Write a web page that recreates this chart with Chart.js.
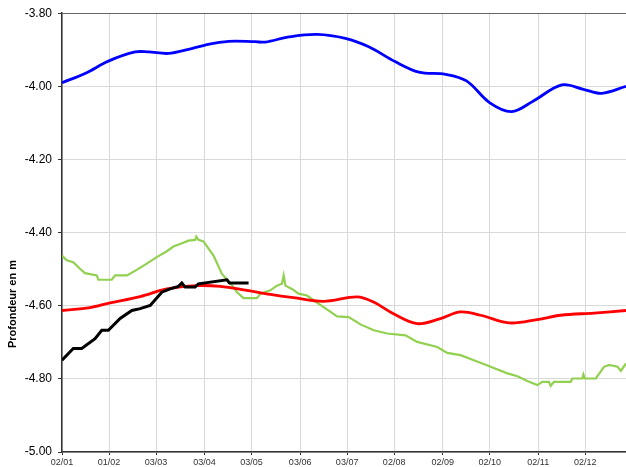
<!DOCTYPE html>
<html lang="fr">
<head>
<meta charset="UTF-8">
<title>Profondeur</title>
<script src="https://cdn.jsdelivr.net/npm/chart.js"></script>
<style>
    body { margin: 0; background: #fff; }
    #box { width: 626px; height: 467px; position: relative; }
</style>
</head>
<body>
<div id="box"><canvas id="grafico"></canvas></div>
<script>
    // jours comptes depuis le 02/01
    const tickDays = [0, 30, 60, 91, 121, 152, 182, 212, 243, 273, 304, 334];
    const tickLabels = ["02/01", "01/02", "03/03", "03/04", "03/05", "03/06", "03/07", "02/08", "02/09", "02/10", "02/11", "02/12"];

    const blueDays = [0, 14.7, 29.6, 46.7, 55.2, 68, 80.7, 91.4, 106.3, 123.4, 129.8, 144.7, 162.8, 180.9, 195.8, 212.9, 227.8, 244.8, 258.2, 273.1, 287, 300.9, 319, 332.8, 344.5, 360];
    const blueDepth = [-3.990, -3.965, -3.931, -3.906, -3.906, -3.910, -3.899, -3.887, -3.877, -3.878, -3.879, -3.865, -3.858, -3.869, -3.892, -3.933, -3.961, -3.967, -3.985, -4.045, -4.069, -4.040, -3.996, -4.008, -4.019, -4.000];

    const redDays = [0, 17.9, 30, 49.9, 66.9, 86.1, 101, 118, 133, 147.7, 166.8, 188.4, 198.8, 211.6, 226.7, 241.6, 254.4, 267.2, 285.3, 303.4, 318.3, 339.6, 360];
    const redDepth = [-4.613, -4.605, -4.593, -4.575, -4.554, -4.545, -4.547, -4.558, -4.569, -4.578, -4.588, -4.576, -4.590, -4.622, -4.649, -4.635, -4.617, -4.626, -4.647, -4.638, -4.626, -4.620, -4.613];

    const greenDays = [0, 3, 7.2, 11.5, 14.7, 22.2, 23.2, 31.8, 33.9, 41.4, 47.7, 54.1, 60.5, 66.9, 71.1, 75.4, 80.7, 85, 85.7, 87.1, 90.3, 96.7, 102.1, 107.4, 111.7, 115.9, 124.5, 126.6, 133, 137.2, 140.4, 141.5, 142.6, 146.8, 151, 156.4, 160.6, 167, 175.6, 183, 190.5, 199, 207.6, 219.3, 226.7, 239.5, 245.9, 254.4, 262.9, 273.6, 284.3, 290.7, 297, 303.4, 306.6, 310.8, 311.9, 314, 324.7, 325.8, 332.2, 332.8, 333.7, 340.7, 346, 349.2, 354.6, 356.7, 360];
    const greenDepth = [-4.463, -4.476, -4.481, -4.499, -4.511, -4.517, -4.529, -4.529, -4.517, -4.517, -4.502, -4.485, -4.467, -4.451, -4.438, -4.431, -4.422, -4.420, -4.411, -4.420, -4.424, -4.463, -4.513, -4.538, -4.563, -4.579, -4.579, -4.567, -4.558, -4.545, -4.540, -4.517, -4.545, -4.554, -4.567, -4.572, -4.585, -4.604, -4.629, -4.631, -4.651, -4.667, -4.676, -4.681, -4.699, -4.713, -4.729, -4.735, -4.749, -4.767, -4.785, -4.793, -4.806, -4.817, -4.808, -4.808, -4.819, -4.808, -4.808, -4.799, -4.799, -4.788, -4.799, -4.799, -4.767, -4.762, -4.767, -4.778, -4.758];

    const blackDays = [0, 7.2, 12.6, 21.1, 25.4, 29.6, 37.1, 44.6, 49.9, 56.3, 63.7, 69, 74.3, 76.5, 78.6, 85, 87.1, 105.3, 106.9, 119.1];
    const blackDepth = [-4.749, -4.717, -4.717, -4.690, -4.667, -4.667, -4.635, -4.613, -4.608, -4.599, -4.563, -4.554, -4.547, -4.538, -4.549, -4.549, -4.540, -4.529, -4.538, -4.538];

    function pts(days, vals) {
        return days.map((d, i) => ({x: d, y: vals[i]}));
    }

    // titre de l'axe Y, place un peu plus bas que le centre comme dans l'original
    const titreY = {
        id: "titreY",
        afterDraw(chart) {
            let c = chart.ctx;
            c.save();
            c.translate(13, 304);
            c.rotate(-Math.PI / 2);
            c.font = "bold 11px 'Liberation Sans', Arial, sans-serif";
            c.fillStyle = "#000";
            c.textAlign = "center";
            c.textBaseline = "middle";
            c.fillText("Profondeur en m", 0, 0);
            c.restore();
        }
    };

    new Chart(document.getElementById("grafico"), {
        type: "line",
        data: {
            datasets: [
                {data: pts(blackDays, blackDepth), borderColor: "#000000", borderWidth: 3, tension: 0},
                {data: pts(redDays, redDepth), borderColor: "#ff0000", borderWidth: 2.8, tension: 0.35},
                {data: pts(greenDays, greenDepth), borderColor: "#92d050", borderWidth: 2.2, tension: 0},
                {data: pts(blueDays, blueDepth), borderColor: "#0000ff", borderWidth: 2.8, tension: 0.35}
            ]
        },
        options: {
            responsive: true,
            maintainAspectRatio: false,
            animation: false,
            layout: {padding: {top: 12, right: 0, left: 0, bottom: 0}},
            elements: {point: {radius: 0}},
            plugins: {legend: {display: false}, tooltip: {enabled: false}},
            scales: {
                x: {
                    type: "linear",
                    min: 0,
                    max: 360,
                    afterBuildTicks: (s) => { s.ticks = tickDays.map(v => ({value: v})); },
                    afterFit: (s) => { s.height = 15; },
                    grid: {color: "#d9d9d9", tickColor: "#333", tickLength: 3},
                    border: {color: "#333", width: 1.5},
                    ticks: {
                        autoSkip: false,
                        maxRotation: 0,
                        padding: 2,
                        color: "#333",
                        font: {family: "'Liberation Sans Narrow', 'Arial Narrow', sans-serif", size: 9},
                        callback: (v, i) => tickLabels[i]
                    }
                },
                y: {
                    min: -5,
                    max: -3.8,
                    afterFit: (s) => { s.width = 62; },
                    grid: {
                        color: (ctx) => Math.abs(ctx.tick.value + 3.8) < 1e-6 ? "#666" : "#d9d9d9",
                        tickColor: "#333",
                        tickLength: 4
                    },
                    border: {color: "#333", width: 1.5},
                    ticks: {
                        stepSize: 0.2,
                        padding: 6,
                        color: "#000",
                        font: {family: "'Liberation Sans', Arial, sans-serif", size: 12},
                        callback: (v) => v.toFixed(2)
                    }
                }
            }
        },
        plugins: [titreY]
    });
</script>
</body>
</html>
